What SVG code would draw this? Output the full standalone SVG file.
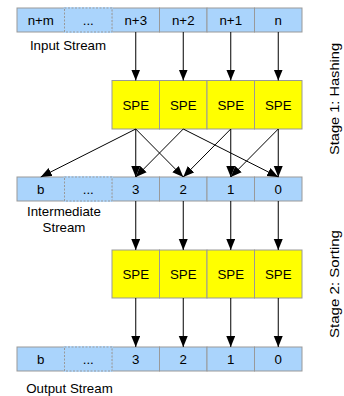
<svg xmlns="http://www.w3.org/2000/svg" width="344" height="396" viewBox="0 0 344 396">
<style>
text{font-family:"Liberation Sans",Arial,sans-serif;font-size:13.3px;fill:#000}
.c{text-anchor:middle}
.cell{fill:#aad4fc;stroke:#999;stroke-width:1}
.dots{fill:#aad4fc;stroke:#999;stroke-width:1;stroke-dasharray:2,1.5}
.cover{fill:#aad4fc;stroke:#aad4fc;stroke-width:1.5}
.spe{fill:#ffff00;stroke:#999;stroke-width:1}
.conn line{stroke:#000;stroke-width:1;marker-end:url(#ah)}
</style>
<defs>
<marker id="ah" markerUnits="userSpaceOnUse" markerWidth="12" markerHeight="10" refX="11" refY="4.5" orient="auto">
<path d="M0,0 L11,4.5 L0,9 z" fill="#000"/>
</marker>
</defs>
<rect width="344" height="396" fill="#fff"/>

<g id="input-stream">
<rect class="cell" x="17" y="8" width="47.5" height="24"/>
<rect class="cell" x="112" y="8" width="47.5" height="24"/>
<rect class="cell" x="159.5" y="8" width="47.5" height="24"/>
<rect class="cell" x="207" y="8" width="47.5" height="24"/>
<rect class="cell" x="254.5" y="8" width="47.5" height="24"/>
<rect class="cover" x="64.5" y="8" width="47.5" height="24"/>
<rect class="dots" x="64.5" y="8" width="47.5" height="24"/>
<text class="c" x="40.75" y="24.7">n+m</text>
<text class="c" x="88.25" y="24.7">...</text>
<text class="c" x="135.75" y="24.7">n+3</text>
<text class="c" x="183.25" y="24.7">n+2</text>
<text class="c" x="230.75" y="24.7">n+1</text>
<text class="c" x="278.25" y="24.7">n</text>
<text class="c" x="68" y="50">Input Stream</text>
</g>

<g id="spe-stage1">
<rect class="spe" x="112" y="80.5" width="47.5" height="48.5"/>
<rect class="spe" x="159.5" y="80.5" width="47.5" height="48.5"/>
<rect class="spe" x="207" y="80.5" width="47.5" height="48.5"/>
<rect class="spe" x="254.5" y="80.5" width="47.5" height="48.5"/>
<text class="c" x="135.75" y="109.5">SPE</text>
<text class="c" x="183.25" y="109.5">SPE</text>
<text class="c" x="230.75" y="109.5">SPE</text>
<text class="c" x="278.25" y="109.5">SPE</text>
</g>

<g id="intermediate-stream">
<rect class="cell" x="17" y="177" width="47.5" height="24"/>
<rect class="cell" x="112" y="177" width="47.5" height="24"/>
<rect class="cell" x="159.5" y="177" width="47.5" height="24"/>
<rect class="cell" x="207" y="177" width="47.5" height="24"/>
<rect class="cell" x="254.5" y="177" width="47.5" height="24"/>
<rect class="cover" x="64.5" y="177" width="47.5" height="24"/>
<rect class="dots" x="64.5" y="177" width="47.5" height="24"/>
<text class="c" x="40.75" y="193.7">b</text>
<text class="c" x="88.25" y="193.7">...</text>
<text class="c" x="135.75" y="193.7">3</text>
<text class="c" x="183.25" y="193.7">2</text>
<text class="c" x="230.75" y="193.7">1</text>
<text class="c" x="278.25" y="193.7">0</text>
<text class="c" x="64" y="216">Intermediate</text>
<text class="c" x="64" y="231.5">Stream</text>
</g>

<g id="spe-stage2">
<rect class="spe" x="112" y="250" width="47.5" height="48"/>
<rect class="spe" x="159.5" y="250" width="47.5" height="48"/>
<rect class="spe" x="207" y="250" width="47.5" height="48"/>
<rect class="spe" x="254.5" y="250" width="47.5" height="48"/>
<text class="c" x="135.75" y="278.7">SPE</text>
<text class="c" x="183.25" y="278.7">SPE</text>
<text class="c" x="230.75" y="278.7">SPE</text>
<text class="c" x="278.25" y="278.7">SPE</text>
</g>

<g id="output-stream">
<rect class="cell" x="17" y="347" width="47.5" height="24"/>
<rect class="cell" x="112" y="347" width="47.5" height="24"/>
<rect class="cell" x="159.5" y="347" width="47.5" height="24"/>
<rect class="cell" x="207" y="347" width="47.5" height="24"/>
<rect class="cell" x="254.5" y="347" width="47.5" height="24"/>
<rect class="cover" x="64.5" y="347" width="47.5" height="24"/>
<rect class="dots" x="64.5" y="347" width="47.5" height="24"/>
<text class="c" x="40.75" y="363.7">b</text>
<text class="c" x="88.25" y="363.7">...</text>
<text class="c" x="135.75" y="363.7">3</text>
<text class="c" x="183.25" y="363.7">2</text>
<text class="c" x="230.75" y="363.7">1</text>
<text class="c" x="278.25" y="363.7">0</text>
<text class="c" x="69.5" y="393">Output Stream</text>
</g>

<g id="stage-labels">
<text class="c" transform="translate(339,99) rotate(-90)" style="font-size:12px" textLength="112" lengthAdjust="spacingAndGlyphs">Stage 1: Hashing</text>
<text class="c" transform="translate(339,284) rotate(-90)" style="font-size:12px" textLength="108" lengthAdjust="spacingAndGlyphs">Stage 2: Sorting</text>
</g>

<g id="connectors" class="conn">
<line x1="135.75" y1="32" x2="135.75" y2="80.5"/>
<line x1="183.25" y1="32" x2="183.25" y2="80.5"/>
<line x1="230.75" y1="32" x2="230.75" y2="80.5"/>
<line x1="278.25" y1="32" x2="278.25" y2="80.5"/>

<line x1="135.75" y1="129" x2="40.75" y2="177"/>
<line x1="135.75" y1="129" x2="135.75" y2="177"/>
<line x1="135.75" y1="129" x2="183.25" y2="177"/>
<line x1="183.25" y1="129" x2="135.75" y2="177"/>
<line x1="183.25" y1="129" x2="278.25" y2="177"/>
<line x1="230.75" y1="129" x2="183.25" y2="177"/>
<line x1="230.75" y1="129" x2="230.75" y2="177"/>
<line x1="278.25" y1="129" x2="230.75" y2="177"/>
<line x1="278.25" y1="129" x2="278.25" y2="177"/>

<line x1="135.75" y1="201" x2="135.75" y2="250"/>
<line x1="183.25" y1="201" x2="183.25" y2="250"/>
<line x1="230.75" y1="201" x2="230.75" y2="250"/>
<line x1="278.25" y1="201" x2="278.25" y2="250"/>

<line x1="135.75" y1="298" x2="135.75" y2="347"/>
<line x1="183.25" y1="298" x2="183.25" y2="347"/>
<line x1="230.75" y1="298" x2="230.75" y2="347"/>
<line x1="278.25" y1="298" x2="278.25" y2="347"/>
</g>
</svg>
